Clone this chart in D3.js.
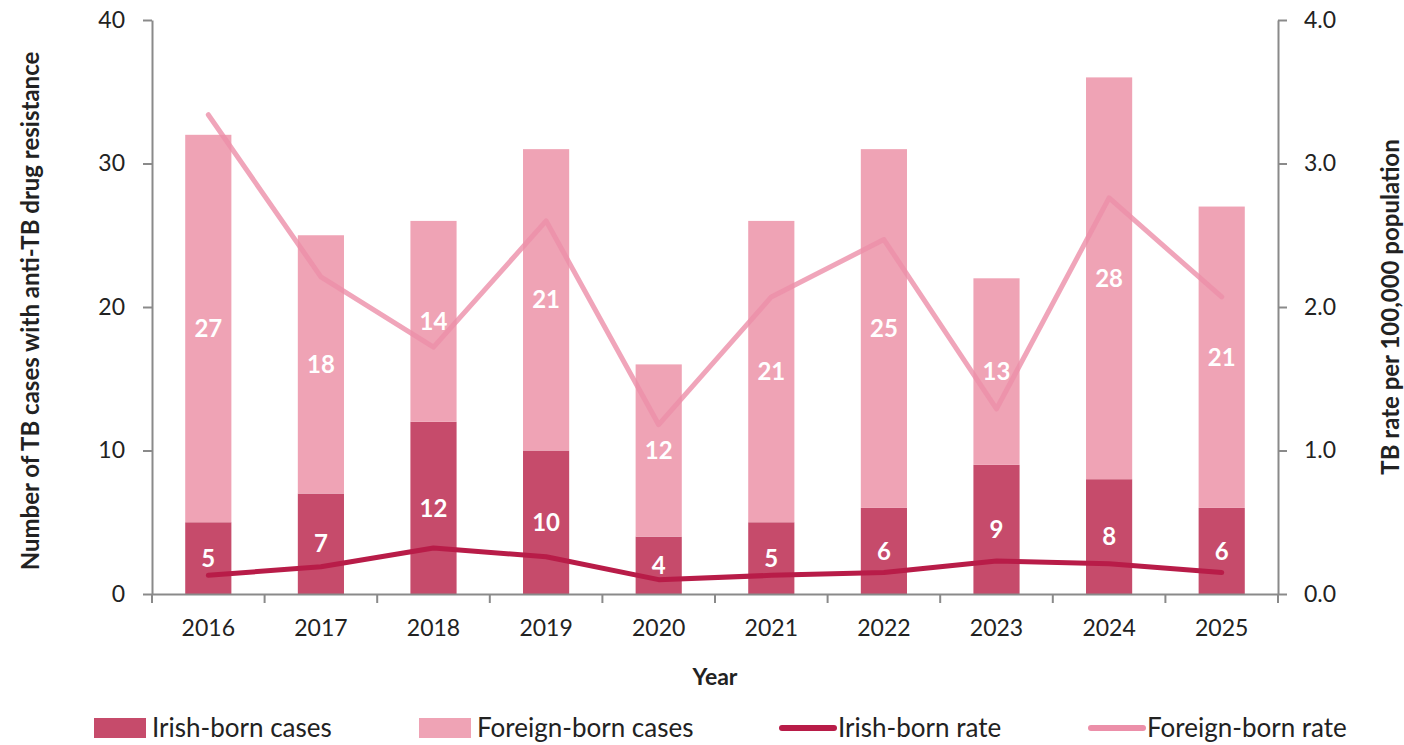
<!DOCTYPE html>
<html>
<head>
<meta charset="utf-8">
<script src="https://cdn.jsdelivr.net/npm/d3@7"></script>
<style>
  body { margin: 0; background: #fff; }
  svg text { font-family: Lato, "Open Sans", sans-serif; fill: #222; }
</style>
</head>
<body>
<script>
var years = ["2016", "2017", "2018", "2019", "2020", "2021", "2022", "2023", "2024", "2025"];
var irishCases = [5, 7, 12, 10, 4, 5, 6, 9, 8, 6];
var foreignCases = [27, 18, 14, 21, 12, 21, 25, 13, 28, 21];
var irishRate = [0.13, 0.19, 0.32, 0.26, 0.10, 0.13, 0.15, 0.23, 0.21, 0.15];
var foreignRate = [3.34, 2.21, 1.72, 2.60, 1.18, 2.07, 2.47, 1.29, 2.76, 2.07];
var leftTicks = [0, 10, 20, 30, 40];
var rightTicks = [0, 1, 2, 3, 4];

var colIrish = "#c64b6b", colForeign = "#efa3b5",
    colIrishLine = "#b81c48", colForeignLine = "#ec8fa9",
    axisCol = "#8a8a8a";

var W = 1404, H = 745;
var margin = {top: 20, right: 126, bottom: 151, left: 152},
    width = W - margin.left - margin.right,
    height = H - margin.top - margin.bottom;

var svg = d3.select("body").append("svg")
    .attr("width", W)
    .attr("height", H);

var g = svg.append("g")
    .attr("transform", "translate(" + margin.left + "," + margin.top + ")");

var x = d3.scaleBand().domain(years).range([0, width]).padding(0);
var y = d3.scaleLinear().domain([0, 40]).range([height, 0]);
var y2 = d3.scaleLinear().domain([0, 4]).range([height, 0]);
var barW = x.bandwidth() * 0.41;

var rows = years.map(function(d, i) {
    return {year: d, irish: irishCases[i], foreign: foreignCases[i], ir: irishRate[i], fr: foreignRate[i]};
});

// stacked bars
var bars = g.selectAll(".bar").data(rows).enter().append("g")
    .attr("transform", function(d) { return "translate(" + (x(d.year) + x.bandwidth() / 2) + ",0)"; });

bars.append("rect")
    .attr("x", -barW / 2)
    .attr("width", barW)
    .attr("y", function(d) { return y(d.irish); })
    .attr("height", function(d) { return y(0) - y(d.irish); })
    .attr("fill", colIrish);

bars.append("rect")
    .attr("x", -barW / 2)
    .attr("width", barW)
    .attr("y", function(d) { return y(d.irish + d.foreign); })
    .attr("height", function(d) { return y(d.irish) - y(d.irish + d.foreign); })
    .attr("fill", colForeign);

// rate lines
var line = function(key) {
    return d3.line()
        .x(function(d) { return x(d.year) + x.bandwidth() / 2; })
        .y(function(d) { return y2(d[key]); });
};

g.append("path")
    .datum(rows)
    .attr("d", line("fr"))
    .attr("fill", "none")
    .attr("stroke", colForeignLine)
    .attr("stroke-opacity", 0.8)
    .attr("stroke-width", 5)
    .attr("stroke-linecap", "round")
    .attr("stroke-linejoin", "round");

g.append("path")
    .datum(rows)
    .attr("d", line("ir"))
    .attr("fill", "none")
    .attr("stroke", colIrishLine)
    .attr("stroke-width", 5)
    .attr("stroke-linecap", "round")
    .attr("stroke-linejoin", "round");

// value labels
bars.append("text")
    .attr("y", function(d) { return y(d.irish / 2); })
    .attr("dy", "0.36em")
    .attr("text-anchor", "middle")
    .style("font-size", "24px")
    .style("font-weight", "bold")
    .style("fill", "#fff")
    .text(function(d) { return d.irish; });

bars.append("text")
    .attr("y", function(d) { return y(d.irish + d.foreign / 2); })
    .attr("dy", "0.36em")
    .attr("text-anchor", "middle")
    .style("font-size", "24px")
    .style("font-weight", "bold")
    .style("fill", "#fff")
    .text(function(d) { return d.foreign; });

// axes
var styleAxis = function(sel) {
    sel.select(".domain").attr("stroke", axisCol).attr("stroke-width", 2);
    sel.selectAll(".tick line").attr("stroke", axisCol).attr("stroke-width", 2);
    sel.selectAll("text").style("font-size", "23px").style("fill", "#222").attr("font-family", null);
};

g.append("g")
    .call(d3.axisLeft(y).tickValues(leftTicks).tickSize(9).tickSizeOuter(0).tickPadding(18))
    .call(styleAxis);

g.append("g")
    .attr("transform", "translate(" + width + ",0)")
    .call(d3.axisRight(y2).tickValues(rightTicks).tickFormat(d3.format(".1f")).tickSize(9).tickSizeOuter(0).tickPadding(17))
    .call(styleAxis);

var xAxis = g.append("g")
    .attr("transform", "translate(0," + height + ")")
    .call(d3.axisBottom(x).tickSize(0).tickPadding(26))
    .call(styleAxis);

// tick marks at category boundaries
xAxis.selectAll(".sep")
    .data(years.concat(["end"]))
    .enter().append("line")
    .attr("x1", function(d, i) { return i * x.step(); })
    .attr("x2", function(d, i) { return i * x.step(); })
    .attr("y1", 0)
    .attr("y2", 9)
    .attr("stroke", axisCol)
    .attr("stroke-width", 2);

// axis titles
svg.append("text")
    .attr("x", margin.left + width / 2)
    .attr("y", 685)
    .attr("text-anchor", "middle")
    .style("font-size", "23px")
    .style("font-weight", "bold")
    .text("Year");

svg.append("text")
    .attr("transform", "translate(39," + (margin.top + height / 2 + 4) + ") rotate(-90)")
    .attr("text-anchor", "middle")
    .style("font-size", "24px")
    .style("font-weight", "bold")
    .text("Number of TB cases with anti-TB drug resistance");

svg.append("text")
    .attr("transform", "translate(1399," + (margin.top + height / 2) + ") rotate(-90)")
    .attr("text-anchor", "middle")
    .style("font-size", "24px")
    .style("font-weight", "bold")
    .text("TB rate per 100,000 population");

// legend
var legendItems = [
    {label: "Irish-born cases", type: "rect", color: colIrish, x: 94},
    {label: "Foreign-born cases", type: "rect", color: colForeign, x: 419},
    {label: "Irish-born rate", type: "line", color: colIrishLine, x: 780},
    {label: "Foreign-born rate", type: "line", color: colForeignLine, x: 1089}
];

var legend = svg.selectAll(".legend").data(legendItems).enter().append("g")
    .attr("transform", function(d) { return "translate(" + d.x + ",728)"; });

legend.filter(function(d) { return d.type === "rect"; }).append("rect")
    .attr("x", 0).attr("y", -10).attr("width", 52).attr("height", 20)
    .attr("fill", function(d) { return d.color; });

legend.filter(function(d) { return d.type === "line"; }).append("line")
    .attr("x1", 2).attr("x2", 54).attr("y1", 0).attr("y2", 0)
    .attr("stroke", function(d) { return d.color; })
    .attr("stroke-width", 6)
    .attr("stroke-linecap", "round");

legend.append("text")
    .attr("x", 58)
    .attr("dy", "0.36em")
    .style("font-size", "26px")
    .text(function(d) { return d.label; });
</script>
</body>
</html>
